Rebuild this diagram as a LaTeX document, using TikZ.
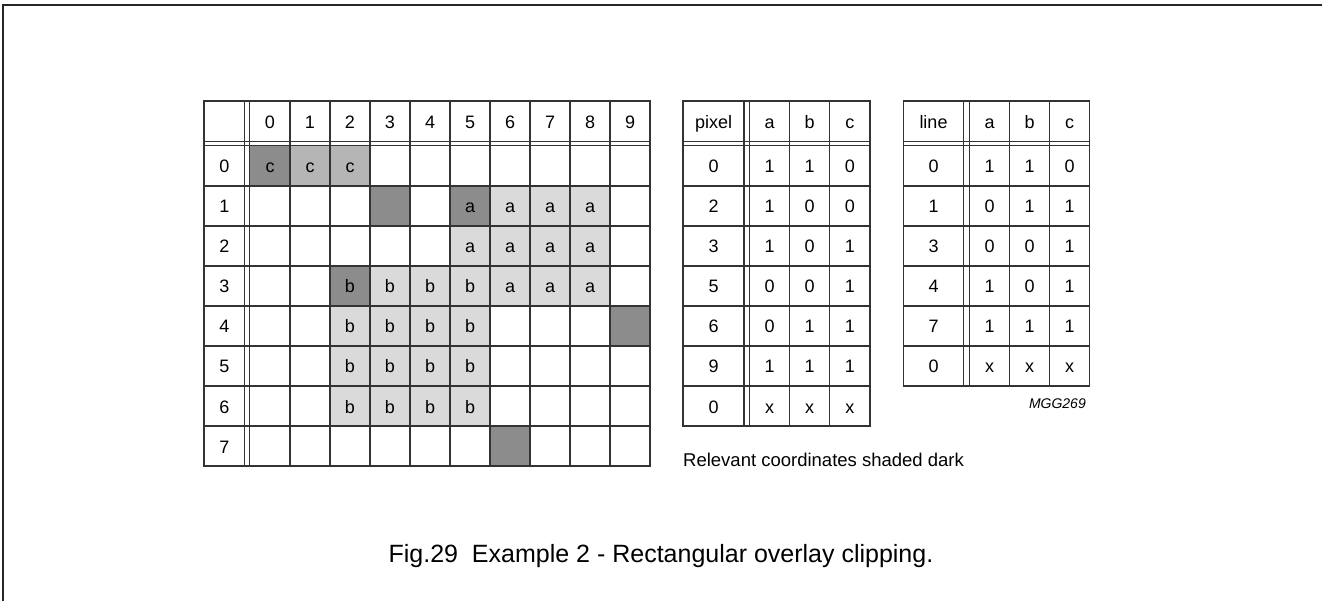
\documentclass[tikz,border=0pt]{standalone}
\usepackage{fontspec}
\setmainfont{Liberation Sans}
\usepackage{xcolor}
\usetikzlibrary{positioning}
\definecolor{shadedark}{gray}{0.55}
\definecolor{shademid}{gray}{0.71}
\definecolor{shadelight}{gray}{0.855}

\begin{document}
\begin{tikzpicture}[x=1pt,y=-1pt]
\tikzstyle{every node}+=[inner sep=0pt]
\tikzstyle{cell}=[anchor=base,font=\fontsize{18}{20}\selectfont]
\tikzstyle{rule}=[line width=1.2pt,black!80]
\useasboundingbox (0,0) rectangle (1322,601);
% frame (top and left only)
\draw [line width=2pt,black!85] (2.5,601) -- (2.5,5.5) -- (1322,5.5);
% overlay grid: shading
\fill [shadelight] (450,186) rectangle (610,306);
\fill [shadelight] (330,266) rectangle (490,426);
\fill [shademid] (290,146) rectangle (370,186);
\fill [shadedark] (249.5,146) rectangle (290,186);
\fill [shadedark] (370,186) rectangle (410,226);
\fill [shadedark] (450,186) rectangle (490,226);
\fill [shadedark] (330,266) rectangle (370,306);
\fill [shadedark] (610,306) rectangle (650,346);
\fill [shadedark] (490,426) rectangle (530,466);
% overlay grid: lines
\draw [rule] (204,101) rectangle (650,466);
\foreach \x in {244.5,249.5,290,330,...,610}
  \draw [rule] (\x,101) -- (\x,466);
\foreach \y in {141.5,145.5,186,226,...,426}
  \draw [rule] (204,\y) -- (650,\y);
% overlay grid: labels
\foreach \c in {0,...,9}
  \node [cell] (gh\c) at (270+40*\c,128.5) {\c};
\foreach \r in {0,...,7}
  \node [cell] (gr\r) at (224.5,173+40*\r) {\r};
\foreach \r/\c/\t in {0/0/c,0/1/c,0/2/c,
    1/5/a,1/6/a,1/7/a,1/8/a,2/5/a,2/6/a,2/7/a,2/8/a,3/6/a,3/7/a,3/8/a,
    3/2/b,3/3/b,3/4/b,3/5/b,4/2/b,4/3/b,4/4/b,4/5/b,
    5/2/b,5/3/b,5/4/b,5/5/b,6/2/b,6/3/b,6/4/b,6/5/b}
  \node [cell] (g\r\c) at (270+40*\c,173+40*\r) {\t};
% pixel table
\draw [rule] (683,101) rectangle (870,426);
\foreach \x in {744,749.5,789.5,829.5}
  \draw [rule] (\x,101) -- (\x,426);
\foreach \y in {141.5,145.5,186,226,...,386}
  \draw [rule] (683,\y) -- (870,\y);
\node [cell] (ph) at (713.5,128.5) {pixel};
\node [cell] (pha) at (769.5,128.5) {a};
\node [cell] (phb) at (809.5,128.5) {b};
\node [cell] (phc) at (849.75,128.5) {c};
\foreach \v/\a/\b/\c [count=\r from 0] in {0/1/1/0,2/1/0/0,3/1/0/1,5/0/0/1,6/0/1/1,9/1/1/1,0/x/x/x} {
  \node [cell] (p\r) at (713.5,173+40*\r) {\v};
  \node [cell] (pa\r) at (769.5,173+40*\r) {\a};
  \node [cell] (pb\r) at (809.5,173+40*\r) {\b};
  \node [cell] (pc\r) at (849.75,173+40*\r) {\c};
}
% line table
\draw [rule] (903.5,101) rectangle (1089.5,386);
\foreach \x in {963.5,969.5,1009.5,1049.5}
  \draw [rule] (\x,101) -- (\x,386);
\foreach \y in {141.5,145.5,186,226,...,346}
  \draw [rule] (903.5,\y) -- (1089.5,\y);
\node [cell] (lh) at (933.5,128.5) {line};
\node [cell] (lha) at (989.5,128.5) {a};
\node [cell] (lhb) at (1029.5,128.5) {b};
\node [cell] (lhc) at (1069.5,128.5) {c};
\foreach \v/\a/\b/\c [count=\r from 0] in {0/1/1/0,1/0/1/1,3/0/0/1,4/1/0/1,7/1/1/1,0/x/x/x} {
  \node [cell] (l\r) at (933.5,173+40*\r) {\v};
  \node [cell] (la\r) at (989.5,173+40*\r) {\a};
  \node [cell] (lb\r) at (1029.5,173+40*\r) {\b};
  \node [cell] (lc\r) at (1069.5,173+40*\r) {\c};
}
% texts
\node [anchor=base east,font=\fontsize{14}{16}\selectfont\itshape] (tag) at (1086,408.5) {MGG269};
\node [anchor=base west,font=\fontsize{18.5}{20}\selectfont] (note) at (683,466) {Relevant coordinates shaded dark};
\node [anchor=base,font=\fontsize{25}{28}\selectfont] (caption) at (661,562.5) {Fig.29\ \ Example 2 - Rectangular overlay clipping.};
\end{tikzpicture}
\end{document}
